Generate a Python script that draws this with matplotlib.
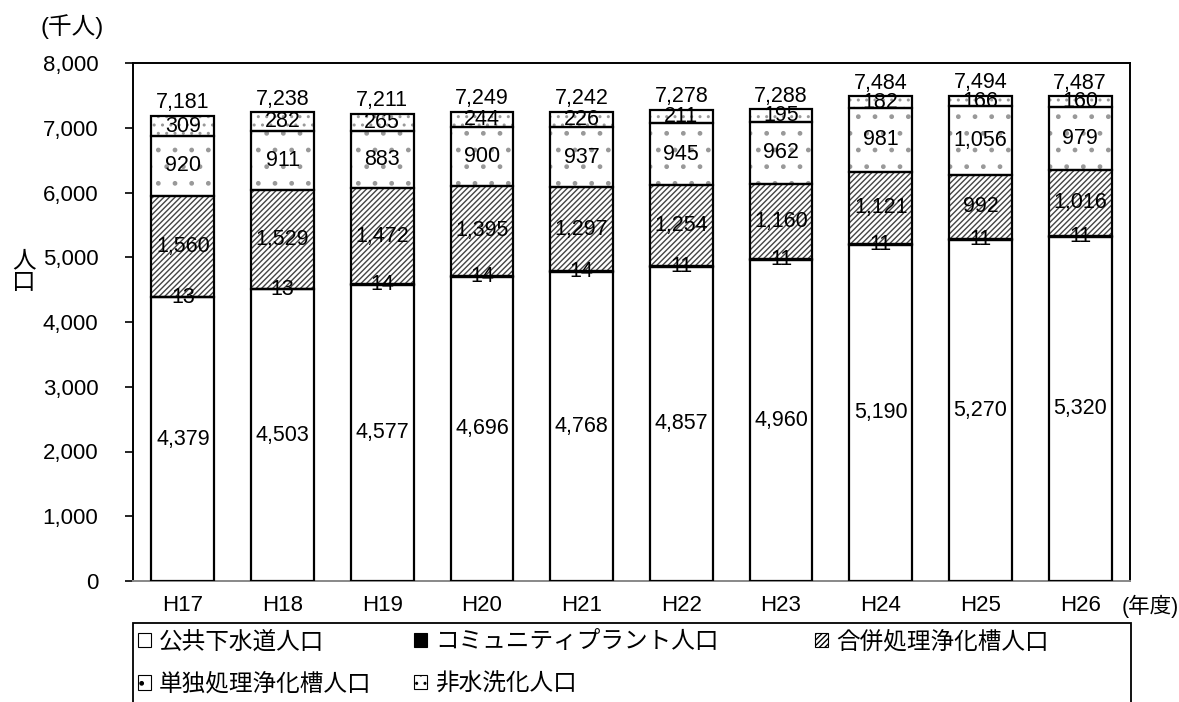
import matplotlib
matplotlib.use("Agg")
import matplotlib.pyplot as plt
from matplotlib.patches import Patch, Rectangle
import numpy as np

plt.rcParams['font.family'] = ['Liberation Sans', 'Noto Sans CJK JP', 'DejaVu Sans']
plt.rcParams['hatch.linewidth'] = 1.0

years = ['H17', 'H18', 'H19', 'H20', 'H21', 'H22', 'H23', 'H24', 'H25', 'H26']
sewer = [4379, 4503, 4577, 4696, 4768, 4857, 4960, 5190, 5270, 5320]
community = [13, 13, 14, 14, 14, 11, 11, 11, 11, 11]
combined = [1560, 1529, 1472, 1395, 1297, 1254, 1160, 1121, 992, 1016]
single = [920, 911, 883, 900, 937, 945, 962, 981, 1056, 979]
non_flush = [309, 282, 265, 244, 226, 211, 195, 182, 166, 160]
totals = [7181, 7238, 7211, 7249, 7242, 7278, 7288, 7484, 7494, 7487]

names = ['公共下水道人口', 'コミュニティプラント人口', '合併処理浄化槽人口',
         '単独処理浄化槽人口', '非水洗化人口']
series = [sewer, community, combined, single, non_flush]
# face colour, hatch, hatch colour
styles = [('white', '', 'black'),
          ('black', '', 'black'),
          ('white', '//////', '#444444'),
          ('white', '.', '#999999'),
          ('white', '..', '#999999')]

W, H = 1179, 702
fig = plt.figure(figsize=(W / 100, H / 100), dpi=100)
ax = fig.add_axes([133 / W, 1 - 581 / H, (1130 - 133) / W, (581 - 63) / H])

x = np.arange(len(years))
width = 0.63
bottom = np.zeros(len(years))
for vals, (fc, hatch, hc) in zip(series, styles):
    vals = np.array(vals, dtype=float)
    if hatch:
        ax.bar(x, vals, width, bottom=bottom, color=fc, edgecolor=hc,
               hatch=hatch, linewidth=0, zorder=2)
    ax.bar(x, vals, width, bottom=bottom, facecolor=fc if not hatch else 'none',
           edgecolor='black', linewidth=1.6, zorder=3)
    for xi, b, v in zip(x, bottom, vals):
        ax.text(xi, b + v / 2, f'{int(v):,}', ha='center', va='center',
                fontsize=15.5, zorder=4)
    bottom += vals

for xi, b, t in zip(x, bottom, totals):
    ax.text(xi, b + 40, f'{t:,}', ha='center', va='bottom', fontsize=15.5)

ax.set_xlim(-0.5, len(years) - 0.5)
ax.set_ylim(0, 8000)
ax.set_yticks(np.arange(0, 8001, 1000))
ax.yaxis.set_major_formatter(matplotlib.ticker.FuncFormatter(lambda v, p: f'{int(v):,}'))
ax.set_xticks(x)
ax.set_xticklabels(years)
ax.tick_params(axis='y', labelsize=16, length=6, width=1.2, pad=19)
ax.tick_params(axis='x', labelsize=16, length=0, pad=10)
for s in ax.spines.values():
    s.set_linewidth(1.4)
ax.spines['bottom'].set_color('#888888')

fig.text(40 / W, 1 - 27 / H, '(千人)', fontsize=17, va='center', ha='left')
fig.text(12 / W, 1 - 272 / H, '人\n口', fontsize=17, va='center', ha='left',
         linespacing=1.0)
fig.text(1122 / W, 1 - 606 / H, '(年度)', fontsize=15.5, va='center', ha='left')

# legend: outer frame running off the bottom edge, three fixed columns
fig.add_artist(Rectangle((133 / W, -0.05), (1131 - 133) / W, 0.05 + 1 - 623 / H,
                         transform=fig.transFigure, facecolor='white',
                         edgecolor='black', linewidth=1.3, zorder=1))
handles = [Patch(facecolor=fc, edgecolor='black', hatch=hatch, linewidth=0.8)
           for fc, hatch, hc in styles]
columns = [(138, [0, 3]), (414, [1, 4]), (815, [2])]
for left, idx in columns:
    leg = fig.legend([handles[i] for i in idx], [names[i] for i in idx],
                     loc='upper left', bbox_to_anchor=(left / W, 1 - 631 / H),
                     fontsize=17, frameon=False, handlelength=0.55,
                     handleheight=0.55, handletextpad=0.35, borderpad=0,
                     labelspacing=0.85, borderaxespad=0)
    leg.set_zorder(2)

fig.savefig('out.png', dpi=100)
